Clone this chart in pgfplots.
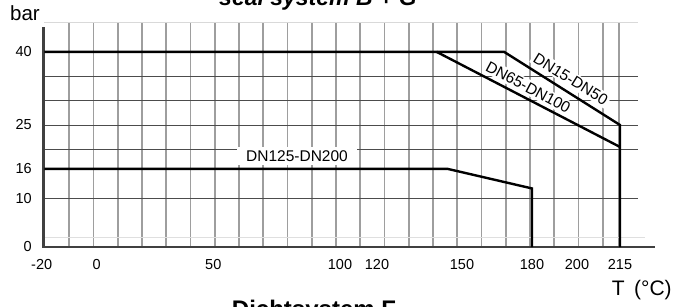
\documentclass[border=0pt]{standalone}
\usepackage{fontspec}
\setmainfont{Liberation Sans}
\usepackage{pgfplots}
\pgfplotsset{compat=1.18}
\begin{document}
\begin{tikzpicture}[x=1bp,y=1bp]
\path[use as bounding box] (-40,-59) rectangle (633,247);
% ---- background grid (pixel-like x positions of the printed grid) ----
\begin{axis}[
  x=1bp, y=4.88bp, xmin=40, xmax=655, ymin=0, ymax=46,
  axis line style={draw=none}, tick style={draw=none}, major tick length=0pt,
  xtick={69.3,93.55,117.8,142.05,166.3,190.55,214.8,239.05,263.3,287.55,311.8,336.05,360.3,384.55,408.8,433.05,457.3,481.55,505.8,530.05,554.3,578.55,602.8,619},
  xticklabels={}, ytick=\empty,
  xmajorgrids, major grid style={black!38, line width=1.8bp},
  clip=false,
]
\draw[gray!30, line width=1.5bp] (axis cs:44,46) -- (axis cs:638,46);
\draw[gray!25, line width=1bp] (axis cs:44,2) -- (axis cs:645,2);
\pgfplotsinvokeforeach{10,20,25,30,35}{\draw[black!70, line width=0.9bp] (axis cs:44,#1) -- (axis cs:638,#1);}
\draw[black!75, line width=2.6bp] (axis cs:43.5,45) -- (axis cs:43.5,-0.27);
\draw[black!75, line width=2.6bp] (axis cs:42.2,0) -- (axis cs:655,0);
\end{axis}
% ---- labels ----
\node[anchor=base west, inner sep=0pt, font=\fontsize{20.5bp}{22bp}\selectfont] at (-30,226.3) {bar};
\node[anchor=base west, inner sep=0pt, font=\fontsize{21bp}{24bp}\selectfont] at (571.7,-48) {T\hspace{0.45em}(°C)};
\node[anchor=base, inner sep=0pt, font=\bfseries\itshape\fontsize{23bp}{26bp}\selectfont] at (278,242) {seal system B + G};
\node[anchor=base, inner sep=0pt, font=\bfseries\fontsize{24bp}{27bp}\selectfont] at (274,-70) {Dichtsystem F};
\node[fill=white, inner xsep=9bp, inner ysep=4bp, font=\fontsize{15.5bp}{17bp}\selectfont] at (257,91) {DN125-DN200};
\node[fill=white, inner sep=2bp, rotate=-32, font=\fontsize{15.5bp}{17bp}\selectfont] at (530.7,168) {DN15-DN50};
\node[fill=white, inner sep=2bp, rotate=-28, font=\fontsize{15.5bp}{17bp}\selectfont] at (488.3,159.7) {DN65-DN100};
% ---- data axis (temperature in degC, pressure in bar) ----
\begin{axis}[
  x=1bp, y=4.88bp, xmin=-20.618, xmax=227.2, ymin=0, ymax=45,
  x coord trafo/.code={\pgfmathparse{((#1)<0) ? (96.7+2.75*(#1)) : (((#1)<50) ? (96.7+2.332*(#1)) : (((#1)<100) ? (213.3+2.534*((#1)-50)) : (((#1)<120) ? (340+1.85*((#1)-100)) : (((#1)<150) ? (377+2.833*((#1)-120)) : (((#1)<180) ? (462+2.333*((#1)-150)) : (((#1)<200) ? (532+2.25*((#1)-180)) : (577+2.867*((#1)-200))))))))}},
  axis line style={draw=none}, tick style={draw=none}, major tick length=0pt,
  xtick={-20,0,50,100,120,150,180,200,215},
  xticklabels={-20,0,50,100,120,150,180,200,215},
  ytick={0,10,16,25,40}, yticklabels={0,10,16,25,40},
  tick label style={font=\fontsize{14.5bp}{16bp}\selectfont, inner sep=0pt},
  xticklabel style={anchor=center, yshift=-18bp},
  yticklabel style={anchor=east, xshift=-8bp},
  /pgf/number format/assume math mode=true,
  clip=false,
]
\addplot[black, line width=2.4bp] coordinates {(-19,40) (168,40) (215,25) (215,0)};
\addplot[black, line width=2.4bp] coordinates {(141,40) (215,20.5)};
\addplot[black, line width=2.4bp] coordinates {(-19,16) (145,16) (180,12) (180,0)};
\end{axis}
\end{tikzpicture}
\end{document}
